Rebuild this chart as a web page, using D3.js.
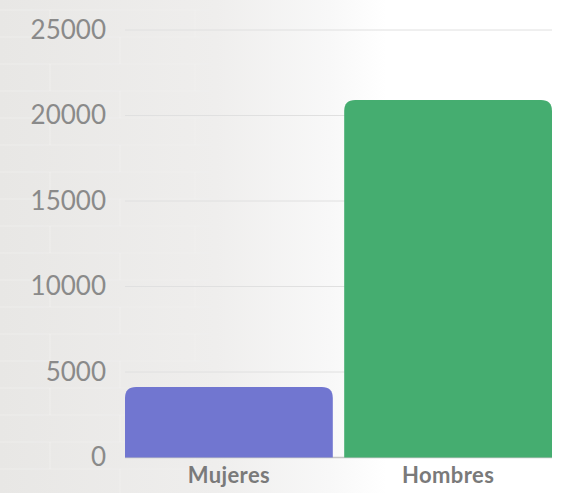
<!DOCTYPE html>
<html>
<head>
<meta charset="utf-8">
<script src="https://cdn.jsdelivr.net/npm/d3@7"></script>
<style>
  html, body { margin: 0; padding: 0; background: #fff; }
  svg { display: block; }
</style>
</head>
<body>
<div id="chart"></div>
<script>
// Población por sexo
const categories = ["Mujeres", "Hombres"];
const values = [4120, 20900];
const barColors = ["#7176D0", "#45AD70"];
const yTicks = [0, 5000, 10000, 15000, 20000, 25000];

const W = 568, H = 493;
const margin = { top: 30, right: 16, bottom: 35.5, left: 125 };

const svg = d3.select("#chart").append("svg")
  .attr("width", W).attr("height", H);

// Backdrop: pale wall on the left fading out to white
const defs = svg.append("defs");
const grad = defs.append("linearGradient").attr("id", "bg")
  .attr("x1", "0").attr("x2", "1").attr("y1", "0").attr("y2", "0");
grad.append("stop").attr("offset", "0").attr("stop-color", "#e8e7e5");
grad.append("stop").attr("offset", "0.38").attr("stop-color", "#efeeed");
grad.append("stop").attr("offset", "0.58").attr("stop-color", "#f8f8f8");
grad.append("stop").attr("offset", "0.68").attr("stop-color", "#ffffff");
grad.append("stop").attr("offset", "1").attr("stop-color", "#ffffff");
svg.append("rect").attr("width", W).attr("height", H).attr("fill", "url(#bg)");

// faint brick joints
const fade = defs.append("linearGradient").attr("id", "fade")
  .attr("x1", "0").attr("x2", "1").attr("y1", "0").attr("y2", "0");
fade.append("stop").attr("offset", "0").attr("stop-color", "#fff").attr("stop-opacity", 1);
fade.append("stop").attr("offset", "0.6").attr("stop-color", "#fff").attr("stop-opacity", 0);
defs.append("mask").attr("id", "wallMask")
  .append("rect").attr("width", W).attr("height", H).attr("fill", "url(#fade)");
const wall = svg.append("g").attr("mask", "url(#wallMask)")
  .attr("stroke", "#ffffff").attr("stroke-opacity", 0.28).attr("stroke-width", 1.2);
for (let r = 0; r * 27 < H; r++) {
  const yy = r * 27 + 10;
  wall.append("line").attr("x1", 0).attr("x2", W).attr("y1", yy).attr("y2", yy);
  const off = (r % 2) * 70;
  for (let xx = off + 50; xx < 400; xx += 145) {
    wall.append("line").attr("x1", xx).attr("x2", xx).attr("y1", yy).attr("y2", yy + 27);
  }
}

const x = d3.scaleBand()
  .domain(categories)
  .range([margin.left, W - margin.right])
  .paddingInner(0.052)
  .paddingOuter(0);

const y = d3.scaleLinear()
  .domain([0, 25000])
  .range([H - margin.bottom, margin.top]);

// gridlines
svg.append("g")
  .selectAll("line")
  .data(yTicks.filter(d => d > 0))
  .join("line")
  .attr("x1", margin.left).attr("x2", W - margin.right)
  .attr("y1", d => y(d)).attr("y2", d => y(d))
  .attr("stroke", "#e0e0e0").attr("stroke-width", 1);

// baseline
svg.append("line")
  .attr("x1", margin.left).attr("x2", W - margin.right)
  .attr("y1", y(0)).attr("y2", y(0))
  .attr("stroke", "#c4c4c4").attr("stroke-width", 1.5);

// y axis labels
const yAxis = d3.axisLeft(y).tickValues(yTicks).tickSize(0).tickPadding(19)
  .tickFormat(d3.format("d"));
svg.append("g")
  .attr("transform", `translate(${margin.left},0)`)
  .call(yAxis)
  .call(g => g.select(".domain").remove())
  .selectAll("text")
  .attr("fill", "#8a8a8a")
  .style("font-family", "Lato, 'Open Sans', sans-serif")
  .style("font-size", "26px");

// bars with rounded top corners
const r = 11;
function topRounded(x0, y0, w, h) {
  const rr = Math.min(r, h, w / 2);
  return `M${x0},${y0 + h}V${y0 + rr}Q${x0},${y0} ${x0 + rr},${y0}` +
    `H${x0 + w - rr}Q${x0 + w},${y0} ${x0 + w},${y0 + rr}V${y0 + h}Z`;
}
svg.append("g")
  .selectAll("path")
  .data(categories.map((c, i) => ({ c, v: values[i], color: barColors[i] })))
  .join("path")
  .attr("d", d => topRounded(x(d.c), y(d.v), x.bandwidth(), y(0) - y(d.v)))
  .attr("fill", d => d.color);

// x axis labels
const xAxis = d3.axisBottom(x).tickSize(0).tickPadding(10);
svg.append("g")
  .attr("transform", `translate(0,${y(0)})`)
  .call(xAxis)
  .call(g => g.select(".domain").remove())
  .selectAll("text")
  .attr("fill", "#7a7a7a")
  .style("font-family", "Lato, 'Open Sans', sans-serif")
  .style("font-weight", "700")
  .style("font-size", "22px")
  .style("letter-spacing", "0.4px");
</script>
</body>
</html>
